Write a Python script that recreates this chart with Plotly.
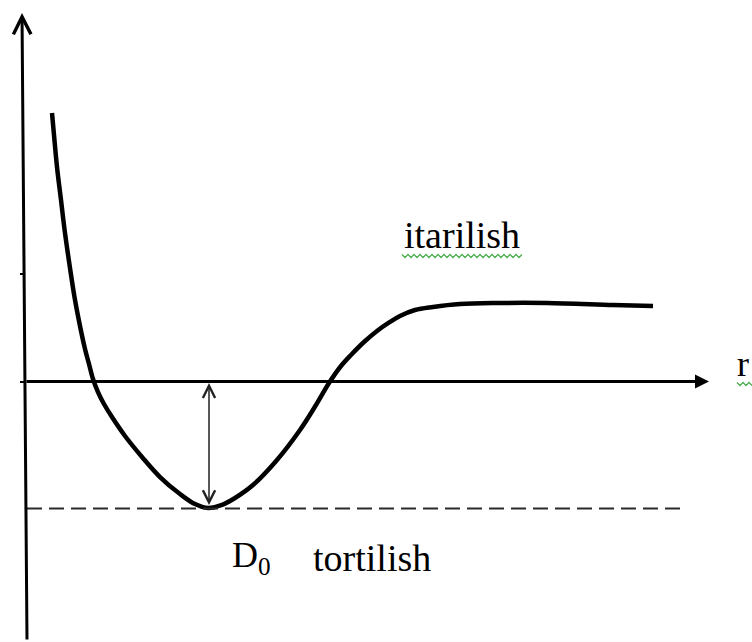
import plotly.graph_objects as go

# --- data (r in arbitrary units, energy in units of D0) ---
r_values = [0.27, 0.29, 0.32, 0.36, 0.40, 0.45, 0.50, 0.55, 0.60, 0.64, 0.68, 0.73, 0.79, 0.87,
            1.00, 1.17, 1.35, 1.55, 1.70, 1.83, 1.97, 2.10, 2.28, 2.52, 2.75, 2.91, 3.04, 3.16,
            3.26, 3.39, 3.52, 3.65, 3.75, 3.90, 4.08, 4.35, 4.72, 5.22, 5.88, 6.28]
energy_values = [2.114, 1.941, 1.689, 1.429, 1.169, 0.894, 0.642, 0.437, 0.256, 0.138, 0.020,
                 -0.083, -0.177, -0.280, -0.429, -0.594, -0.752, -0.886, -0.965, -0.996, -0.972,
                 -0.917, -0.815, -0.618, -0.382, -0.185, -0.012, 0.122, 0.209, 0.311, 0.398,
                 0.469, 0.516, 0.563, 0.587, 0.610, 0.618, 0.618, 0.602, 0.594]
d0_level = -1.0
r_min = 1.84
y_ticks = [0.0, 0.85]
label_attract = "itarilish"
label_repulse = "tortilish"
label_d0 = "D<sub>0</sub>"
label_r = "r"

W, H = 752, 642
x_range = [-0.25, 7.27]
y_range = [-2.051, 3.004]


def px2x(px):
    return (px - 25) / 100


def py2y(py):
    return (381.5 - py) / 127


def wavy_path(x0, x1, yc, period=6.0, amp=1.5):
    pts = []
    px = x0
    k = 0
    while px <= x1:
        dy = -amp if k % 2 == 0 else amp
        pts.append(f"{px2x(px):.4f},{py2y(yc + dy):.4f}")
        px += period / 2
        k += 1
    return "M" + " L".join(pts)


fig = go.Figure()
fig.add_trace(go.Scatter(x=r_values, y=energy_values, mode="lines",
                         line=dict(color="black", width=4.5, shape="spline", smoothing=1.0),
                         hoverinfo="skip", showlegend=False))

# dashed D0 level
fig.add_shape(type="line", xref="x", yref="y", x0=0.02, x1=6.55, y0=d0_level, y1=d0_level,
              line=dict(color="#2a2a2a", width=2, dash="15px,7px"))

# spell-check style wavy underlines
green = "#4caf50"
fig.add_shape(type="path", xref="x", yref="y", path=wavy_path(402, 522, 256),
              line=dict(color=green, width=1.3))
fig.add_shape(type="path", xref="x", yref="y", path=wavy_path(737, 752, 384),
              line=dict(color=green, width=1.3))

serif = "Liberation Serif, Times New Roman, serif"
ann = []
# vertical axis with arrow
ann.append(dict(x=-0.03, y=2.902, ax=0.02, ay=-2.043, xref="x", yref="y", axref="x", ayref="y",
                text="", showarrow=True, arrowhead=5, arrowsize=1.15, arrowwidth=3, arrowcolor="black"))
# horizontal axis with arrow
ann.append(dict(x=6.84, y=0.0, ax=0.0, ay=0.0, xref="x", yref="y", axref="x", ayref="y",
                text="", showarrow=True, arrowhead=2, arrowsize=1.0, arrowwidth=2.8, arrowcolor="black"))
# double arrow D0
ann.append(dict(x=r_min, y=-0.012, ax=r_min, ay=-0.985, xref="x", yref="y", axref="x", ayref="y",
                text="", showarrow=True, arrowside="end+start", arrowhead=5, startarrowhead=5,
                arrowsize=1.6, startarrowsize=1.6, arrowwidth=1.5, arrowcolor="#222"))

ann.append(dict(x=px2x(462), y=py2y(234.5), xref="x", yref="y", showarrow=False,
                text=label_attract, font=dict(family=serif, size=38, color="black"),
                xanchor="center", yanchor="middle"))
ann.append(dict(x=px2x(735), y=py2y(363.5), xref="x", yref="y", showarrow=False,
                text=label_r, font=dict(family=serif, size=36, color="black"),
                xanchor="left", yanchor="middle"))
ann.append(dict(x=px2x(230), y=py2y(557.5), xref="x", yref="y", showarrow=False,
                text=label_d0, font=dict(family=serif, size=36, color="black"),
                xanchor="left", yanchor="middle"))
ann.append(dict(x=px2x(311), y=py2y(557.5), xref="x", yref="y", showarrow=False,
                text=label_repulse, font=dict(family=serif, size=38, color="black"),
                xanchor="left", yanchor="middle"))

fig.update_layout(
    width=W, height=H, margin=dict(l=0, r=0, t=0, b=0),
    paper_bgcolor="white", plot_bgcolor="white",
    annotations=ann,
    xaxis=dict(range=x_range, visible=False, fixedrange=True),
    yaxis=dict(range=y_range, anchor="free", position=24.5 / W, showline=False, showgrid=False,
               zeroline=False, ticks="outside", ticklen=5, tickwidth=2, tickcolor="black",
               tickvals=y_ticks, showticklabels=False, fixedrange=True),
)
fig.write_html("out.html", config={"displayModeBar": False},
               post_script="document.body.style.margin='0px';")
